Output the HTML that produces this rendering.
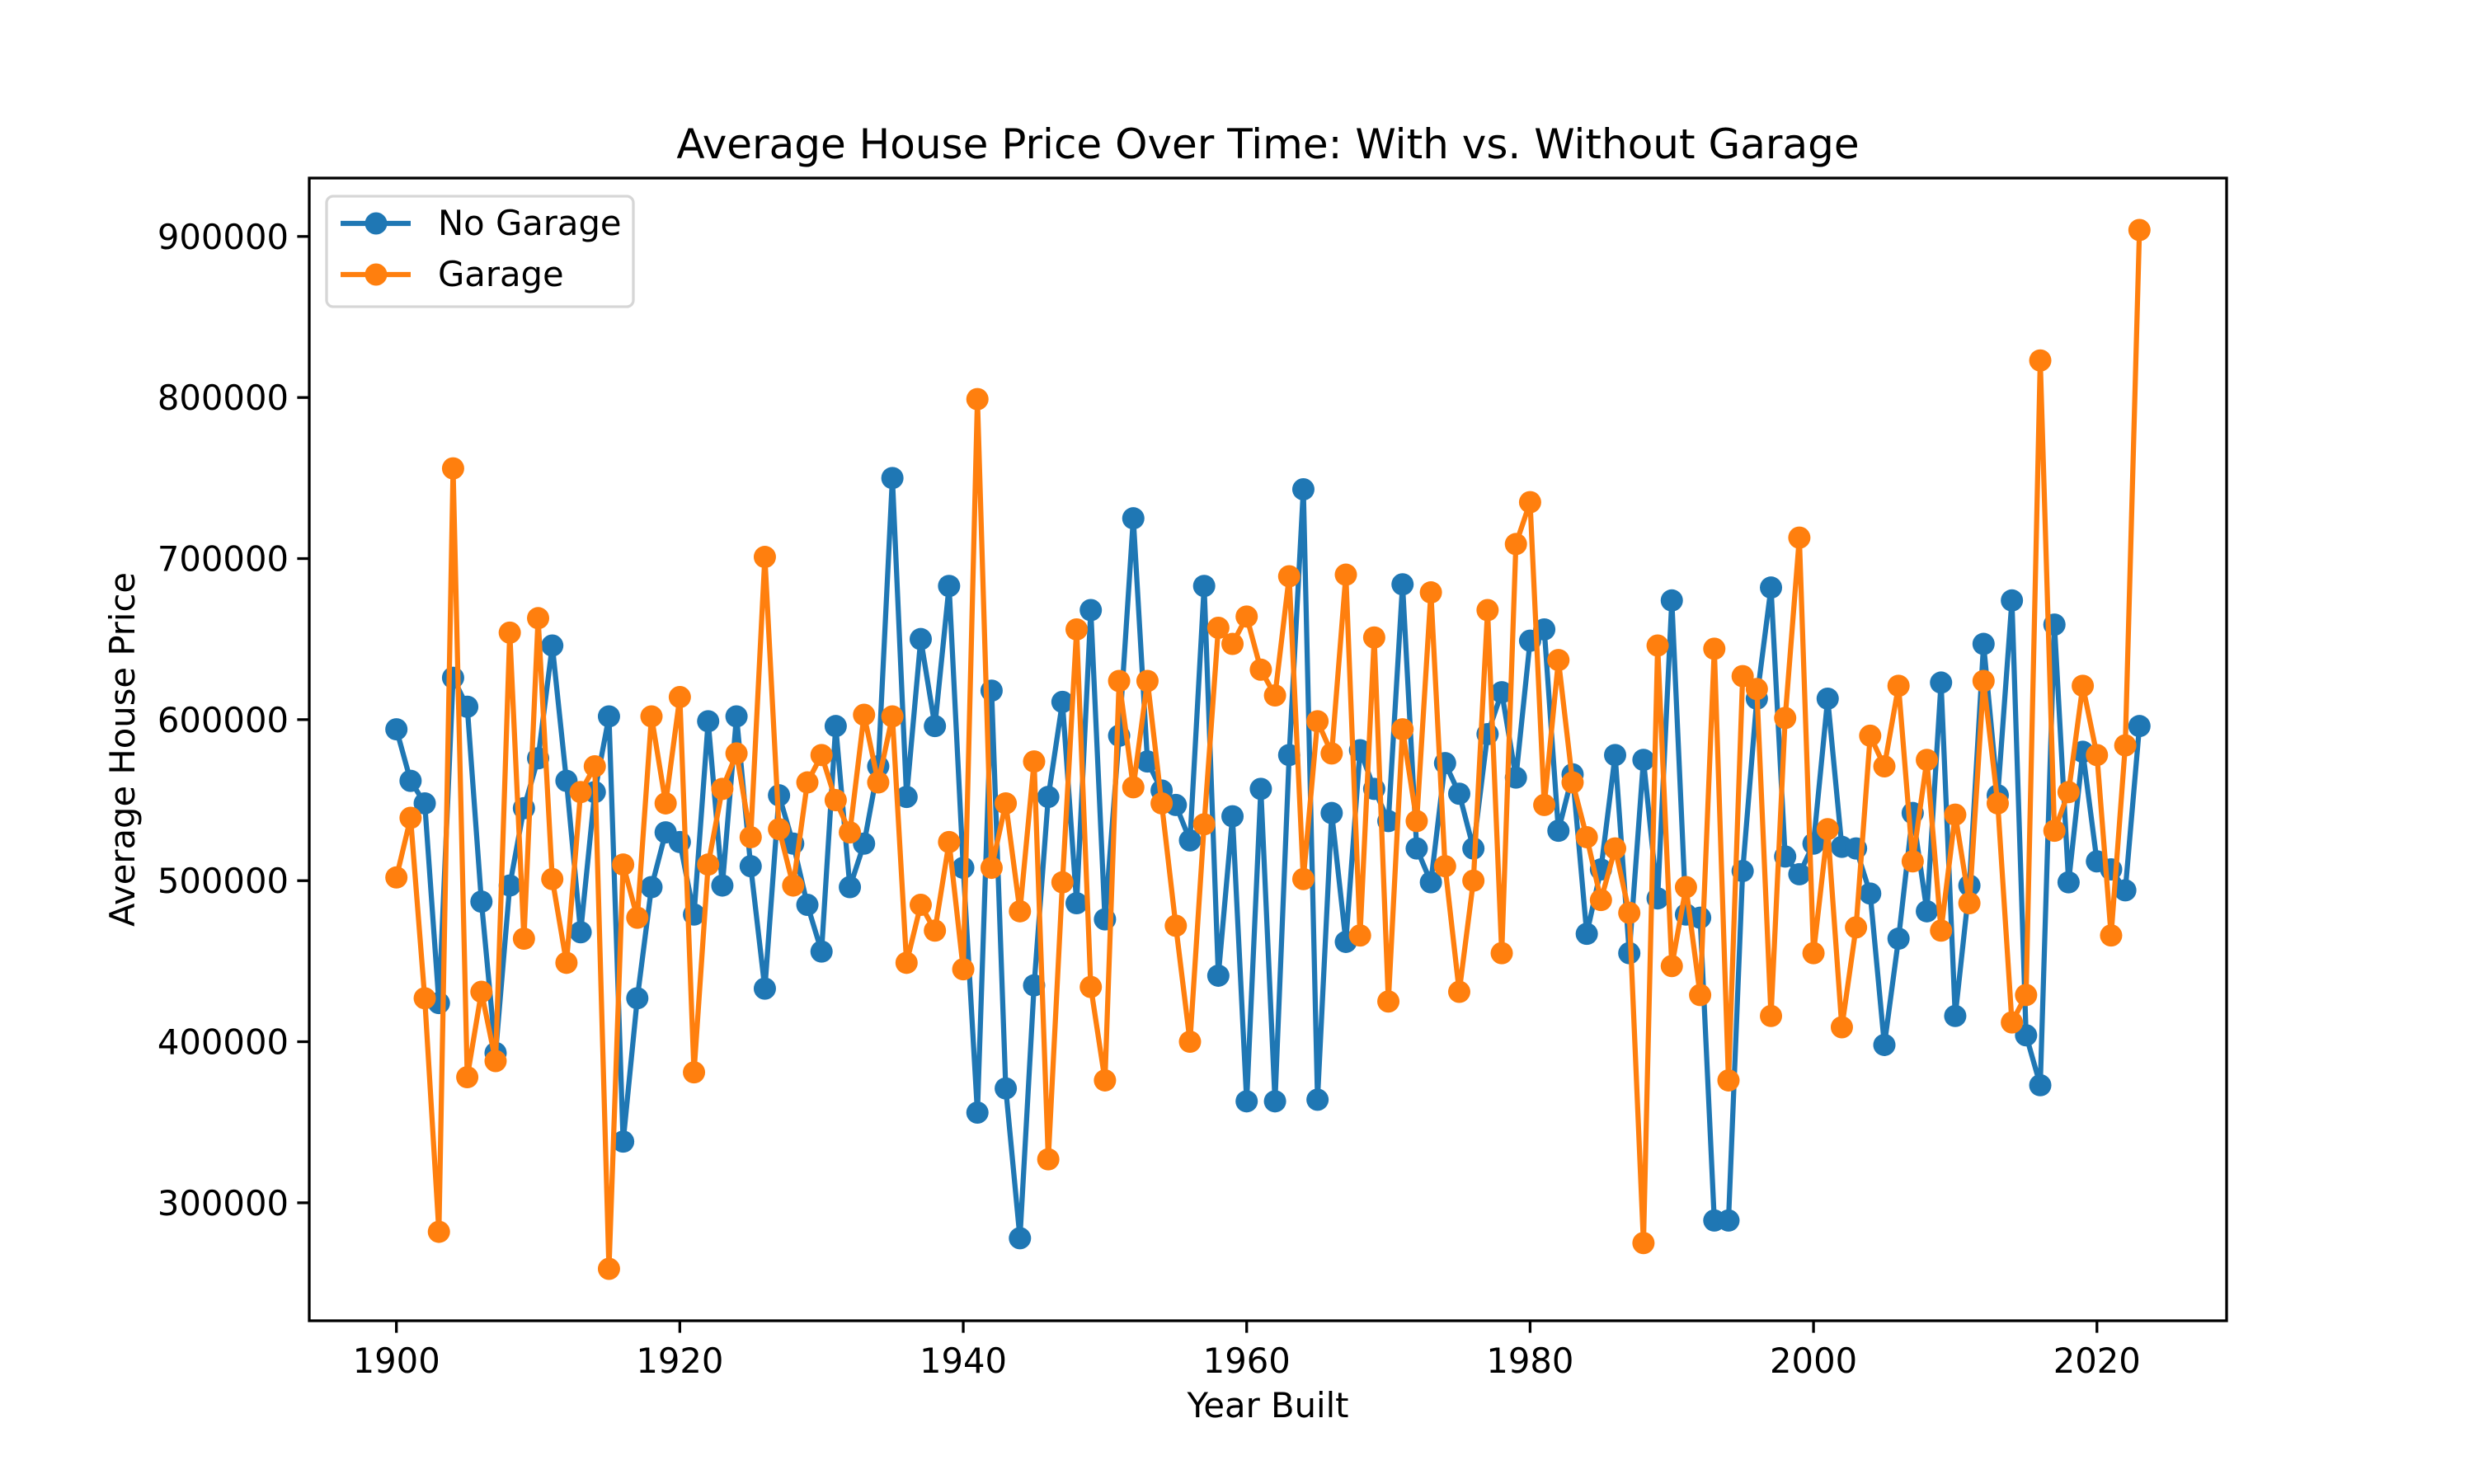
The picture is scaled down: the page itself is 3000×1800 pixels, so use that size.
<!DOCTYPE html>
<html><head><meta charset="utf-8"><style>
html,body{margin:0;padding:0;background:#fff;}
svg{display:block;font-family:"DejaVu Sans","Liberation Sans",sans-serif;}
</style></head><body>
<svg id="chart" width="3000" height="1800" viewBox="0 0 3000 1800" xmlns="http://www.w3.org/2000/svg">
<rect width="3000" height="1800" fill="#fff"/>
<text x="1537.5" y="192" font-size="50" text-anchor="middle">Average House Price Over Time: With vs. Without Garage</text>
<text x="1537.5" y="1719" font-size="41.7" text-anchor="middle">Year Built</text>
<text transform="translate(163,909) rotate(-90)" font-size="41.7" text-anchor="middle">Average House Price</text>
<g id="ticks"></g>
<g id="series"></g>
<rect x="375" y="216" width="2325" height="1386" fill="none" stroke="#000" stroke-width="3.3"/>
<g>
<rect x="396" y="238" width="372" height="134" rx="8" fill="#fff" fill-opacity="0.8" stroke="#d6d6d6" stroke-width="3.3"/>
<g>
<line x1="413" y1="271" x2="498" y2="271" stroke="#1f77b4" stroke-width="6.25"/>
<circle cx="456" cy="271" r="13.5" fill="#1f77b4"/>
<text x="531" y="285" font-size="41.7">No Garage</text>
</g>
<g>
<line x1="413" y1="333" x2="498" y2="333" stroke="#ff7f0e" stroke-width="6.25"/>
<circle cx="456" cy="333" r="13.5" fill="#ff7f0e"/>
<text x="531" y="347" font-size="41.7">Garage</text>
</g>
</g>
</svg>
<script>
const startYear = 1900;
const noGarage = [594,562,548,424,626,608,487,393,497,545,576,646,562,468,555,602,338,427,496,530,524,479,599,497,602,509,433,553,523,485,456,596,496,523,571,750,552,650,596,683,508,356,618,371,278,435,552,611,486,668,476,590,725,574,556,547,525,683,441,540,363,557,363,578,743,364,542,462,581,557,537,684,520,499,573,554,520,591,617,564,649,656,531,566,467,507,578,455,575,489,674,479,477,289,289,506,613,682,515,504,523,613,521,520,492,398,464,542,481,623,416,497,647,553,674,404,373,659,499,580,512,507,494,596];
const garage = [502,539,427,282,756,378,431,388,654,464,663,501,449,555,571,259,510,477,602,548,614,381,510,557,579,527,701,532,497,561,578,550,530,603,561,602,449,485,469,524,445,799,508,548,481,574,327,499,656,434,376,624,558,624,548,472,400,535,657,647,664,631,615,689,501,599,579,690,466,651,425,594,537,679,509,431,500,668,455,709,735,547,637,561,527,488,520,480,275,646,447,496,429,644,376,627,619,416,601,713,455,532,409,471,590,571,621,512,575,469,541,486,624,548,412,429,823,531,555,621,578,466,584,904];
const xTicks = [1900,1920,1940,1960,1980,2000,2020];
const yTicks = [300000,400000,500000,600000,700000,800000,900000];

const NS = "http://www.w3.org/2000/svg";
const L=375,R=2700,T=216,B=1602;
const n = noGarage.length;
const x0=startYear, x1=startYear+n-1, xm=(x1-x0)*0.05;
const xmin=x0-xm, xmax=x1+xm;
const all = noGarage.concat(garage).map(v=>v*1000);
const dmin=Math.min(...all), dmax=Math.max(...all), ym=(dmax-dmin)*0.05;
const ymin=dmin-ym, ymax=dmax+ym;
function sx(v){return L+(v-xmin)/(xmax-xmin)*(R-L);}
function sy(v){return B-(v-ymin)/(ymax-ymin)*(B-T);}
function mk(tag,attrs,parent){const e=document.createElementNS(NS,tag);for(const k in attrs)e.setAttribute(k,attrs[k]);parent.appendChild(e);return e;}
const tg=document.getElementById('ticks');
xTicks.forEach(t=>{
  const g=mk('g',{},tg);
  
  
  mk('line',{x1:sx(t),x2:sx(t),y1:B,y2:B+14.6,stroke:'#000','stroke-width':3.3},g);
  const tx=mk('text',{x:sx(t),y:B+63,'font-size':41.7,'text-anchor':'middle'},g);
  tx.textContent=t;
});
yTicks.forEach(t=>{
  const g=mk('g',{},tg);
  
  
  mk('line',{x1:L-14.6,x2:L,y1:sy(t),y2:sy(t),stroke:'#000','stroke-width':3.3},g);
  const tx=mk('text',{x:L-25,y:sy(t)+15,'font-size':41.7,'text-anchor':'end'},g);
  tx.textContent=t;
});
const sg=document.getElementById('series');
function draw(arr,color,name){
  const g=mk('g',{},sg);
  
  
  const pts=arr.map((v,i)=>sx(startYear+i).toFixed(2)+','+sy(v*1000).toFixed(2)).join(' ');
  const pl=mk('polyline',{points:pts,fill:'none',stroke:color,'stroke-width':6.25,'stroke-linejoin':'round'},g);
  
  
  arr.forEach((v,i)=>{
    const c=mk('circle',{cx:sx(startYear+i),cy:sy(v*1000),r:13.5,fill:color},g);
    
    
  });
}
draw(noGarage,'#1f77b4','no-garage');
draw(garage,'#ff7f0e','garage');
</script>
</body></html>
